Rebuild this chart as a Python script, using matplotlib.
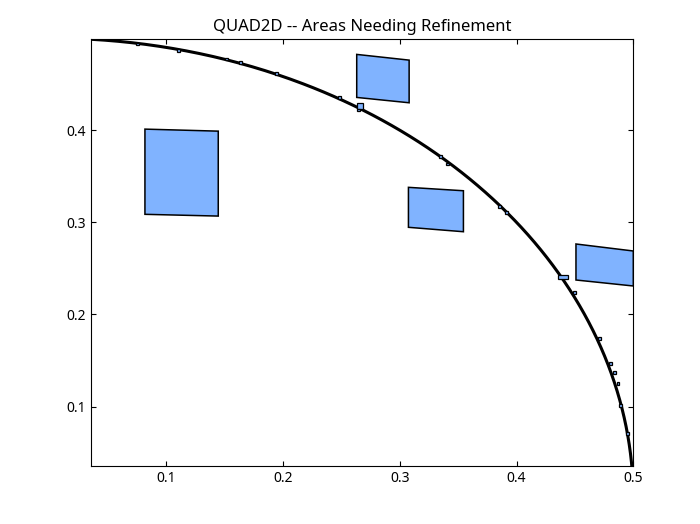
import matplotlib
matplotlib.use("Agg")
import matplotlib.pyplot as plt
from matplotlib.patches import Polygon, Rectangle
import numpy as np

plt.rcParams['font.family'] = ['Noto Sans', 'DejaVu Sans']

# boundary circle
radius = 0.5
x_range = (0.0355, 0.5)
y_range = (0.0355, 0.4987)

# large cells needing refinement (corners TL, TR, BR, BL)
big_x = [
    [0.0817, 0.1445, 0.1445, 0.0817],
    [0.2631, 0.3080, 0.3080, 0.2631],
    [0.3074, 0.3545, 0.3545, 0.3074],
    [0.4509, 0.5000, 0.5000, 0.4509],
]
big_y = [
    [0.4012, 0.3990, 0.3068, 0.3087],
    [0.4823, 0.4761, 0.4298, 0.4356],
    [0.3380, 0.3343, 0.2898, 0.2946],
    [0.2765, 0.2689, 0.2309, 0.2374],
]

# small cells along the boundary (centre, width, height)
small_x = [0.0757, 0.1102, 0.1517, 0.1634, 0.1946, 0.2480, 0.2660, 0.2645,
           0.3351, 0.3408, 0.3854, 0.3917, 0.4400, 0.4497, 0.4711, 0.4802,
           0.4839, 0.4869, 0.4888, 0.4951]
small_y = [0.4935, 0.4862, 0.4772, 0.4736, 0.4617, 0.4356, 0.4262, 0.4219,
           0.3712, 0.3633, 0.3169, 0.3104, 0.2406, 0.2240, 0.1741, 0.1470,
           0.1368, 0.1253, 0.1010, 0.0710]
small_w = [0.0025, 0.0025, 0.0025, 0.0025, 0.0025, 0.0025, 0.0050, 0.0025,
           0.0025, 0.0025, 0.0025, 0.0025, 0.0090, 0.0025, 0.0025, 0.0025,
           0.0025, 0.0025, 0.0025, 0.0025]
small_h = [0.0030, 0.0030, 0.0030, 0.0030, 0.0030, 0.0030, 0.0065, 0.0030,
           0.0030, 0.0030, 0.0030, 0.0030, 0.0050, 0.0030, 0.0030, 0.0030,
           0.0030, 0.0030, 0.0030, 0.0030]

fill_color = "#80b3ff"

fig = plt.figure(figsize=(7, 5.24), dpi=100)
ax = fig.add_axes([0.13, 0.1107, 0.7747, 0.8143])

theta = np.linspace(0, np.pi / 2, 400)
ax.plot(radius * np.cos(theta), radius * np.sin(theta), color="black", lw=2.2, zorder=2)

for xs, ys in zip(big_x, big_y):
    ax.add_patch(Polygon(np.column_stack([xs, ys]), closed=True,
                         facecolor=fill_color, edgecolor="black", lw=1.1, zorder=3))

for cx, cy, w, h in zip(small_x, small_y, small_w, small_h):
    ax.add_patch(Rectangle((cx - w / 2, cy - h / 2), w, h,
                           facecolor=fill_color, edgecolor="black", lw=0.9, zorder=3))

ax.set_xlim(*x_range)
ax.set_ylim(*y_range)
ax.set_xticks([0.1, 0.2, 0.3, 0.4, 0.5])
ax.set_xticklabels(["0.1", "0.2", "0.3", "0.4", "0.5"])
ax.set_yticks([0.1, 0.2, 0.3, 0.4])
ax.set_yticklabels(["0.1", "0.2", "0.3", "0.4"])
ax.tick_params(direction="in", top=True, right=True, labelsize=10)
ax.set_title("QUAD2D -- Areas Needing Refinement", fontsize=12)

fig.savefig("out.png", dpi=100)
